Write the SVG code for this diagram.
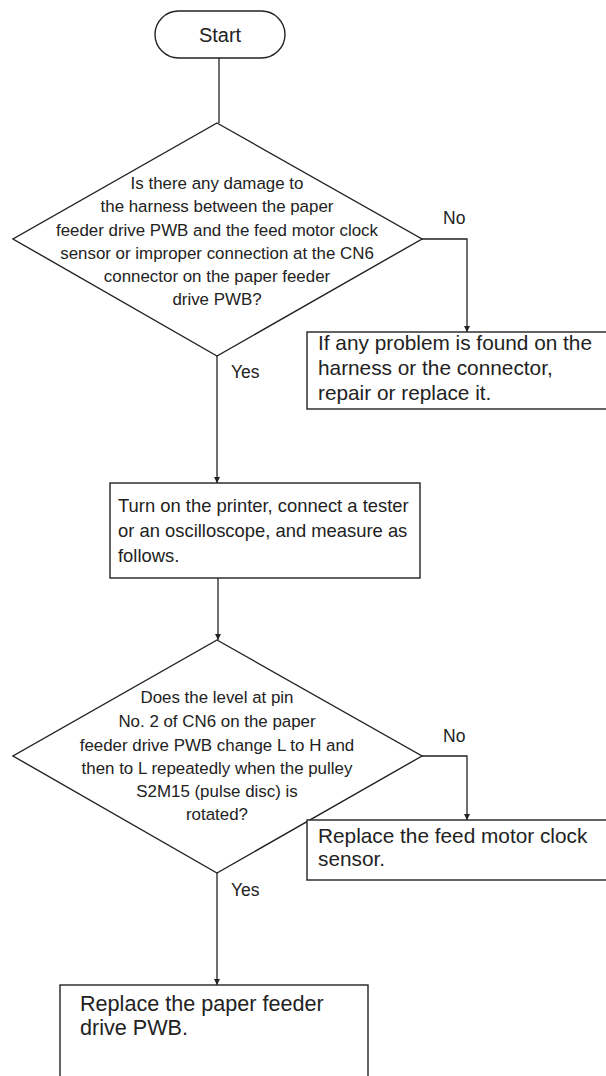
<svg xmlns="http://www.w3.org/2000/svg" width="606" height="1076" viewBox="0 0 606 1076">
<style>
.shape{fill:#fff;stroke:#222;stroke-width:1.4}
.edge{fill:none;stroke:#222;stroke-width:1.3}
.dt{font-family:"Liberation Sans",Arial,sans-serif;font-size:16.9px;fill:#222;text-anchor:middle}
.bt{font-family:"Liberation Sans",Arial,sans-serif;font-size:20.8px;fill:#222}
.bt2{font-family:"Liberation Sans",Arial,sans-serif;font-size:18.4px;fill:#222}
.lbl{font-family:"Liberation Sans",Arial,sans-serif;font-size:17.5px;fill:#222}
</style>
<defs>
<marker id="arr" viewBox="0 0 10 10" refX="10" refY="5" markerWidth="6" markerHeight="10" markerUnits="userSpaceOnUse" orient="auto">
<path d="M0,0 L10,5 L0,10 Z" fill="#222"/>
</marker>
</defs>
<g id="connectors">
<line class="edge" x1="219" y1="58" x2="219" y2="123"/>
<polyline class="edge" points="422,239 467,239 467,332" marker-end="url(#arr)"/>
<line class="edge" x1="217" y1="356" x2="217" y2="483" marker-end="url(#arr)"/>
<line class="edge" x1="218" y1="578" x2="218" y2="640" marker-end="url(#arr)"/>
<polyline class="edge" points="422,756 467,756 467,820" marker-end="url(#arr)"/>
<line class="edge" x1="217" y1="873" x2="217" y2="985" marker-end="url(#arr)"/>
<text class="lbl" x="443" y="224">No</text>
<text class="lbl" x="231" y="378">Yes</text>
<text class="lbl" x="443" y="742">No</text>
<text class="lbl" x="231" y="896">Yes</text>
</g>
<g id="start">
<rect class="shape" x="155" y="11" width="130" height="47" rx="23.5"/>
<text class="dt" x="220" y="42" style="font-size:20px">Start</text>
</g>
<g id="decision1">
<polygon class="shape" points="217,123 422,239 217,356 13,239"/>
<text class="dt" x="217" y="189">Is there any damage to</text>
<text class="dt" x="217" y="212">the harness between the paper</text>
<text class="dt" x="217" y="236">feeder drive PWB and the feed motor clock</text>
<text class="dt" x="217" y="259">sensor or improper connection at the CN6</text>
<text class="dt" x="217" y="282">connector on the paper feeder</text>
<text class="dt" x="217" y="305">drive PWB?</text>
</g>
<g id="box1">
<rect class="shape" x="307" y="332" width="300" height="77"/>
<text class="bt" x="318" y="350">If any problem is found on the</text>
<text class="bt" x="318" y="375">harness or the connector,</text>
<text class="bt" x="318" y="400">repair or replace it.</text>
</g>
<g id="box2">
<rect class="shape" x="110" y="483" width="310" height="95"/>
<text class="bt2" x="118" y="512">Turn on the printer, connect a tester</text>
<text class="bt2" x="118" y="537">or an oscilloscope, and measure as</text>
<text class="bt2" x="118" y="562">follows.</text>
</g>
<g id="decision2">
<polygon class="shape" points="217,640 422,756 217,873 13,756"/>
<text class="dt" x="217" y="703">Does the level at pin</text>
<text class="dt" x="217" y="727">No. 2 of CN6 on the paper</text>
<text class="dt" x="217" y="751">feeder drive PWB change L to H and</text>
<text class="dt" x="217" y="774">then to L repeatedly when the pulley</text>
<text class="dt" x="217" y="797">S2M15 (pulse disc) is</text>
<text class="dt" x="217" y="820">rotated?</text>
</g>
<g id="box3">
<rect class="shape" x="307" y="820" width="300" height="60"/>
<text class="bt" x="318" y="843">Replace the feed motor clock</text>
<text class="bt" x="318" y="866">sensor.</text>
</g>
<g id="box4">
<rect class="shape" x="60" y="985" width="308" height="100"/>
<text class="bt" x="80" y="1011" style="font-size:21.6px">Replace the paper feeder</text>
<text class="bt" x="80" y="1035" style="font-size:21.6px">drive PWB.</text>
</g>
</svg>
